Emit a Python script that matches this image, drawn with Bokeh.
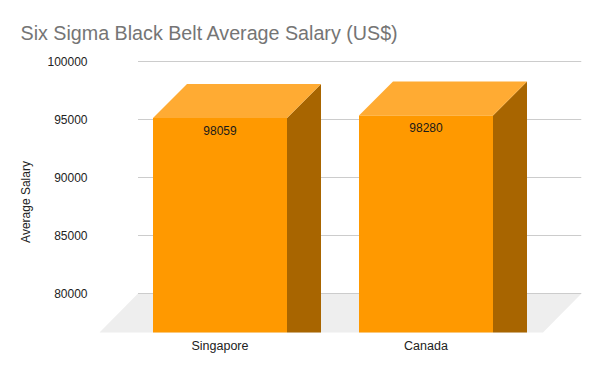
from bokeh.plotting import figure
from bokeh.models import FixedTicker, ColumnDataSource, Range1d, NumeralTickFormatter
from bokeh.core.properties import value
from bokeh.embed import file_html
from bokeh.resources import INLINE

categories = ["Singapore", "Canada"]
salaries = [98059, 98280]
y_ticks = [80000, 85000, 90000, 95000, 100000]
title = "Six Sigma Black Belt Average Salary (US$)"
y_title = "Average Salary"

FONT = "Liberation Sans"
FRONT, TOP, SIDE = "#ff9900", "#ffab33", "#a86500"
W, H = 584, 355

PX_X = 206.0            # pixels per category
PX_Y = 58.0 / 5000.0    # pixels per salary unit
dx = 34 / PX_X          # oblique depth of a bar
dy = 34 / PX_Y
half = 67 / PX_X
floor_dx = 38.5 / PX_X
floor_dy = 39 / PX_Y
x_start = -120.5 / PX_X
x_end = 361.5 / PX_X
y_min, y_max = min(y_ticks), max(y_ticks)
y_bottom = y_min - floor_dy
y_top = y_max + 6 / PX_Y
EXTRA = 16              # frame runs this many px below the floor, which centres the axis title

p = figure(width=W, height=H, output_backend="svg", toolbar_location=None,
           x_range=Range1d(x_start, x_end), y_range=Range1d(y_bottom - EXTRA / PX_Y, y_top),
           min_border_left=99, min_border_right=3, min_border_top=55, min_border_bottom=7,
           outline_line_color=None, background_fill_color="white")

p.title.text = title
p.title.text_font = FONT
p.title.text_font_size = "19.7px"
p.title.text_font_style = "normal"
p.title.text_color = "#757575"
p.title.offset = -79
p.title.standoff = 23

p.xgrid.visible = False
p.ygrid.visible = False

# floor
gx0 = x_start + floor_dx
gx1 = x_end
p.patch([x_start, gx0, gx1, gx1 - floor_dx], [y_bottom, y_min, y_min, y_bottom],
        fill_color="#eeeeee", line_color=None)
# gridlines on back wall
p.segment(x0=[gx0] * len(y_ticks), x1=[gx1] * len(y_ticks), y0=y_ticks, y1=y_ticks,
          line_color="#cccccc", line_width=1)

for i, v in enumerate(salaries):
    f = v - dy
    l, r = i - half, i + half
    p.patch([r, r + dx, r + dx, r], [y_bottom, y_bottom, v, f], fill_color=SIDE, line_color=None)
    p.patch([l, l + dx, r + dx, r], [f, v, v, f], fill_color=TOP, line_color=None)
    p.patch([l, r, r, l], [y_bottom, y_bottom, f, f], fill_color=FRONT, line_color=None)

src = ColumnDataSource(dict(x=list(range(len(salaries))),
                            y=[v - dy - 12 / PX_Y for v in salaries],
                            t=[str(v) for v in salaries]))
p.text("x", "y", text="t", source=src, text_font=value(FONT), text_font_size="12px",
       text_color="#1a1a1a", text_align="center", text_baseline="middle")

p.xaxis.ticker = FixedTicker(ticks=list(range(len(categories))))
p.xaxis.major_label_overrides = {i: c for i, c in enumerate(categories)}
p.yaxis.ticker = FixedTicker(ticks=y_ticks)
p.yaxis.formatter = NumeralTickFormatter(format="0")
for ax in (p.xaxis, p.yaxis):
    ax.axis_line_color = None
    ax.major_tick_line_color = None
    ax.minor_tick_line_color = None
    ax.major_label_text_font = FONT
    ax.major_label_text_font_size = "12px"
    ax.major_label_text_color = "#222222"
    ax.major_label_standoff = 6
p.xaxis.major_label_text_font_size = "12.5px"
p.xaxis.major_label_standoff = -EXTRA

p.yaxis.axis_label = y_title
p.yaxis.axis_label_text_font = FONT
p.yaxis.axis_label_text_font_style = "normal"
p.yaxis.axis_label_text_font_size = "12px"
p.yaxis.axis_label_text_color = "#222222"
p.yaxis.axis_label_standoff = 11

open("out.html", "w").write(file_html(p, INLINE))
